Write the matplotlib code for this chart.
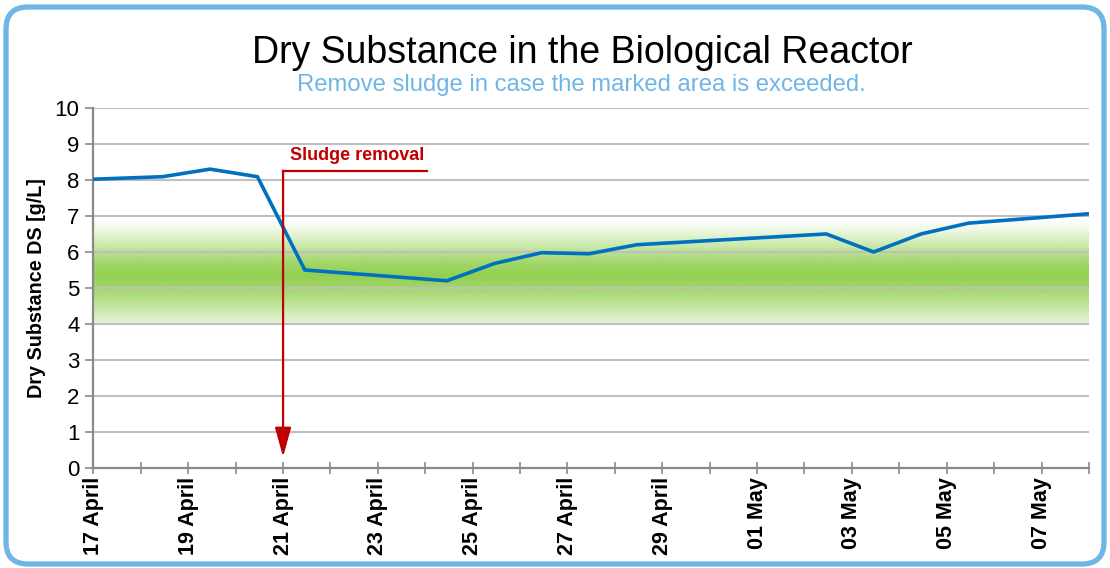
import numpy as np
import pandas as pd
import matplotlib
matplotlib.use("Agg")
import matplotlib.pyplot as plt
import matplotlib.dates as mdates
from matplotlib.patches import FancyBboxPatch

plt.rcParams['font.family'] = ['Liberation Sans', 'DejaVu Sans']

# measurements
dates = pd.to_datetime([
    "2014-04-17 00:00", "2014-04-18 11:00", "2014-04-19 11:00", "2014-04-20 11:00",
    "2014-04-21 11:00", "2014-04-24 11:00", "2014-04-25 11:00", "2014-04-26 11:00",
    "2014-04-27 11:00", "2014-04-28 11:00", "2014-05-02 11:00", "2014-05-03 11:00",
    "2014-05-04 11:00", "2014-05-05 11:00", "2014-05-08 00:00",
])
dry_substance = [8.02, 8.09, 8.30, 8.09, 5.50, 5.20, 5.68, 5.98, 5.95, 6.20,
                 6.50, 6.00, 6.50, 6.80, 7.06]

start = pd.Timestamp("2014-04-17")
end = pd.Timestamp("2014-05-08")

# target band (green gradient) and its intensity profile
band_low, band_high = 4.0, 7.0
band_y = [4.0, 4.5, 5.0, 5.35, 5.7, 6.2, 6.6, 6.9, 7.0]
band_alpha = [0.22, 0.55, 0.88, 1.0, 0.85, 0.45, 0.15, 0.0, 0.0]

# sludge removal annotation
removal_date = pd.Timestamp("2014-04-21")
removal_text_date = pd.Timestamp("2014-04-22 13:30")
removal_line_end = pd.Timestamp("2014-04-24 01:00")
removal_level = 8.26
arrow_tip = 0.31

red = '#C00000'
blue_line = '#0070C0'
light_blue = '#6FB6E6'
grid_col = '#BFBFBF'
axis_col = '#8A8A8A'

fig = plt.figure(figsize=(11.10, 5.68), dpi=100)
ax = fig.add_axes([0.0842, 0.176, 0.8968, 0.634])

# green band
yy = np.linspace(band_low, band_high, 300)
alpha = np.interp(yy, band_y, band_alpha)
img = np.zeros((len(yy), 1, 4))
img[:, 0, :3] = matplotlib.colors.to_rgb('#92D050')
img[:, 0, 3] = alpha
ax.imshow(img, extent=[mdates.date2num(start), mdates.date2num(end), band_low, band_high],
          origin='lower', aspect='auto', interpolation='bilinear', zorder=0.2)

ax.plot(dates, dry_substance, color=blue_line, lw=2.6, zorder=3, solid_joinstyle='miter')

# annotation
ax.plot([removal_date, removal_line_end], [removal_level, removal_level], color=red, lw=1.6, zorder=4)
ax.annotate('', xy=(mdates.date2num(removal_date), arrow_tip),
            xytext=(mdates.date2num(removal_date), removal_level),
            arrowprops=dict(arrowstyle='-|>,head_length=0.9,head_width=0.25', color=red, lw=1.6,
                            mutation_scale=20, shrinkA=0, shrinkB=0), zorder=4)
ax.text(removal_text_date, 8.56, 'Sludge removal', color=red, fontsize=13, fontweight='bold',
        ha='center', va='baseline')

ax.set_xlim(start, end)
ax.set_ylim(0, 10)
ax.set_yticks(range(0, 11))
ax.set_xticks(pd.date_range(start, end, freq='2D'))
ax.set_xticks(pd.date_range(start, end, freq='D'), minor=True)
ax.xaxis.set_major_formatter(mdates.DateFormatter('%d %B'))
for lab in ax.get_xticklabels():
    lab.set_rotation(90)
    lab.set_fontweight('bold')
ax.tick_params(axis='x', which='both', direction='inout', length=9, width=1.2, color=axis_col,
               labelsize=15.5, pad=2)
ax.tick_params(axis='y', direction='out', length=6, width=1.2, color=axis_col, labelsize=16, pad=4)

ax.set_axisbelow(True)
ax.grid(axis='y', color=grid_col, lw=1.5)
for side in ['top', 'right']:
    ax.spines[side].set_visible(False)
for side in ['left', 'bottom']:
    ax.spines[side].set_color(axis_col)
    ax.spines[side].set_linewidth(1.6)

ax.set_ylabel('Dry Substance DS [g/L]', fontsize=14.2, fontweight='bold')
ax.yaxis.set_label_coords(-0.0477, 0.5)

fig.text(582 / 1110, 1 - 63 / 568, 'Dry Substance in the Biological Reactor', fontsize=27,
         ha='center', va='baseline')
fig.text(581 / 1110, 1 - 91 / 568, 'Remove sludge in case the marked area is exceeded.',
         fontsize=17.2, color=light_blue, ha='center', va='baseline')

# rounded frame
frame = FancyBboxPatch((0.06, 0.04), 10.98, 5.57, boxstyle='round,pad=0,rounding_size=0.22',
                       transform=fig.dpi_scale_trans, fill=False, edgecolor=light_blue, lw=3.8)
fig.add_artist(frame)

fig.savefig('out.png', dpi=100)
